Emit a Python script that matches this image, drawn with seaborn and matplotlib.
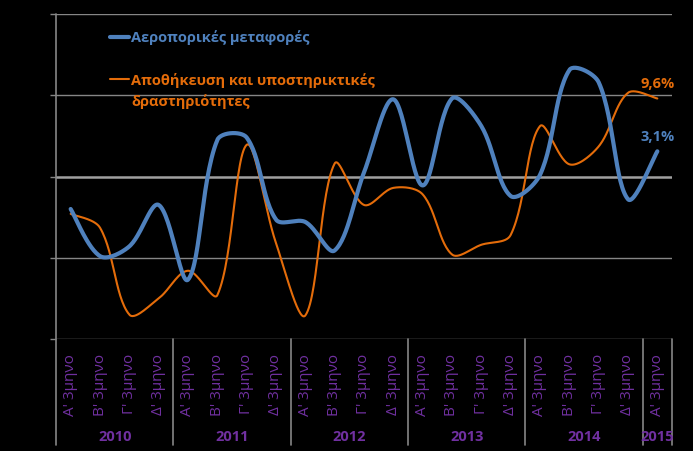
import numpy as np
import pandas as pd
import matplotlib
matplotlib.use("Agg")
import matplotlib.pyplot as plt
import matplotlib.transforms as mtransforms
from matplotlib.lines import Line2D
import seaborn as sns

# ---- data ----
quarters = ["Α' 3μηνο", "Β' 3μηνο", "Γ' 3μηνο", "Δ' 3μηνο"]
years = ["2010", "2011", "2012", "2013", "2014", "2015"]
tick_labels = quarters * 5 + ["Α' 3μηνο"]
air = [-4.0, -9.8, -8.6, -3.5, -12.7, 4.5, 4.8, -5.3, -5.6, -9.1, 0.5,
       9.5, -1.1, 9.6, 6.2, -2.4, 0.2, 13.1, 11.6, -2.8, 3.1]
storage = [-4.6, -6.3, -17.0, -15.0, -11.6, -14.6, 3.9, -8.2, -17.1, 1.6, -3.5,
           -1.4, -2.2, -9.6, -8.4, -7.2, 6.2, 1.5, 3.7, 10.3, 9.6]
name_air = "Αεροπορικές μεταφορές"
name_storage = "Αποθήκευση και υποστηρικτικές\nδραστηριότητες"
label_air = "3,1%"
label_storage = "9,6%"

BLUE = "#4F81BD"
ORANGE = "#E46C0A"
PURPLE = "#7030A0"
GRID = "#868686"

XS, YS = 29.33, 8.1  # screen scale (px per unit) used for smoothing


def smooth(vals, n=30):
    """Excel-like smoothing: Bezier segments with chord-length scaled tangents."""
    p = np.array([np.arange(len(vals), dtype=float) * XS, np.array(vals, float) * YS]).T
    m = len(p)
    d = np.linalg.norm(np.diff(p, axis=0), axis=1)
    out = []
    for i in range(m - 1):
        p1, p2 = p[i], p[i + 1]
        if i > 0:
            c1 = p1 + (p2 - p[i - 1]) * d[i] / (3 * (d[i - 1] + d[i]))
        else:
            c1 = p1 + (p2 - p1) / 6.0
        if i + 2 < m:
            c2 = p2 - (p[i + 2] - p1) * d[i] / (3 * (d[i] + d[i + 1]))
        else:
            c2 = p2 - (p2 - p1) / 6.0
        t = np.linspace(0, 1, n, endpoint=(i == m - 2))[:, None]
        seg = ((1 - t) ** 3) * p1 + 3 * ((1 - t) ** 2) * t * c1 + 3 * (1 - t) * t ** 2 * c2 + t ** 3 * p2
        out.append(seg)
    s = np.vstack(out)
    return s[:, 0] / XS, s[:, 1] / YS


sns.set_style("dark")
plt.rcParams["font.family"] = ["Open Sans", "DejaVu Sans"]

fig = plt.figure(figsize=(6.93, 4.52), dpi=100, facecolor="black")
W, H = 693, 452
ax = fig.add_axes([56 / W, (H - 340) / H, (672 - 56) / W, (340 - 15) / H])
ax.set_facecolor("black")

xa, ya = smooth(air)
xs, ys = smooth(storage)
df_a = pd.DataFrame({"x": xa, "y": ya})
df_s = pd.DataFrame({"x": xs, "y": ys})
sns.lineplot(data=df_s, x="x", y="y", ax=ax, color=ORANGE, linewidth=1.5,
             sort=False, estimator=None, legend=False, zorder=3)
sns.lineplot(data=df_a, x="x", y="y", ax=ax, color=BLUE, linewidth=3.0,
             sort=False, estimator=None, legend=False, zorder=4)

n = len(tick_labels)
ax.set_xlim(-0.5, n - 0.5)
ax.set_ylim(-20, 20)
ax.set_xlabel("")
ax.set_ylabel("")
for sp in ax.spines.values():
    sp.set_visible(False)
ax.grid(False)

# gridlines
for v in [-20, -10, 10, 20]:
    ax.axhline(v, color=GRID, lw=1.0, zorder=1)
ax.axhline(0, color="#A0A0A0", lw=1.8, zorder=1)
ax.set_yticks([-20, -10, 0, 10, 20])
ax.set_yticklabels([])
ax.tick_params(axis="y", length=4, color=GRID, width=1, left=True)

# left axis and year separators extending below
ybot = -(446 - 340) / (340 - 15)
ax.axvline(-0.5, ymin=ybot, ymax=1, color=GRID, lw=1.2, clip_on=False, zorder=2)
for k in range(1, 6):
    ax.axvline(-0.5 + 4 * k, ymin=ybot, ymax=0, color=GRID, lw=1.2, clip_on=False)
ax.axvline(n - 0.5, ymin=ybot, ymax=0, color=GRID, lw=1.2, clip_on=False)

ax.set_xticks(range(n))
ax.set_xticklabels(tick_labels, rotation=90, color=PURPLE, fontsize=11)
ax.tick_params(axis="x", length=0, pad=10, bottom=True)

trans = mtransforms.blended_transform_factory(ax.transData, ax.transAxes)
year_y = -(437 - 340) / (340 - 15)
for k, yr in enumerate(years):
    cx = 1.5 + 4 * k if k < 5 else n - 1
    ax.text(cx, year_y, yr, transform=trans, ha="center", va="center",
            color=PURPLE, fontsize=10.5, fontweight="bold")

# data labels
ax.annotate(label_storage, (n - 1, storage[-1]), xytext=(0, 11), textcoords="offset points",
            ha="center", va="center", color=ORANGE, fontsize=10.5, fontweight="bold")
ax.annotate(label_air, (n - 1, air[-1]), xytext=(0, 11), textcoords="offset points",
            ha="center", va="center", color=BLUE, fontsize=10.5, fontweight="bold")

# legend (manual)
def fx(px):
    return px / W
def fy(py):
    return 1 - py / H
fig.add_artist(Line2D([fx(110), fx(129)], [fy(38), fy(38)], color=BLUE, lw=3))
fig.text(fx(131), fy(38), name_air, color=BLUE, fontsize=10.5, fontweight="bold",
         va="center", ha="left")
fig.add_artist(Line2D([fx(110), fx(129)], [fy(80), fy(80)], color=ORANGE, lw=1.5))
fig.text(fx(131), fy(80), name_storage.split("\n")[0], color=ORANGE, fontsize=10.5,
         fontweight="bold", va="center", ha="left")
fig.text(fx(131), fy(102), name_storage.split("\n")[1], color=ORANGE, fontsize=10.5,
         fontweight="bold", va="center", ha="left")

fig.savefig("out.png", dpi=100, facecolor="black")
